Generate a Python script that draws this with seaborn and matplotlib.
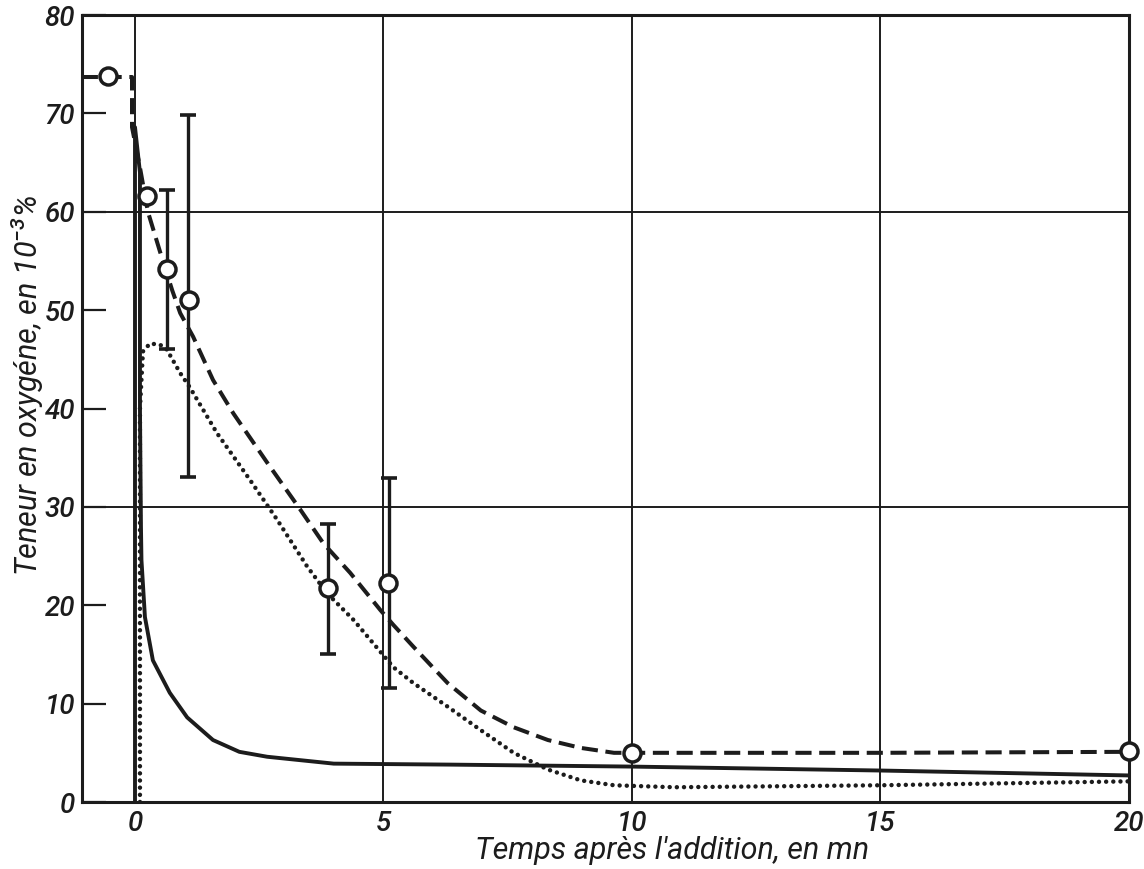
import numpy as np
import pandas as pd
import matplotlib
matplotlib.use("Agg")
import matplotlib.pyplot as plt
import seaborn as sns

# Measured oxygen content (10^-3 %) versus time after the addition (min)
mesure_t = [-0.54, 0.24, 0.64, 1.09, 3.89, 5.10, 10.0, 20.0]
mesure_o = [73.8, 61.6, 54.2, 51.0, 21.8, 22.3, 5.0, 5.2]

# Scatter ranges of the individual determinations
err_t = [0.64, 1.07, 3.89, 5.12]
err_low = [46.0, 33.0, 15.0, 11.6]
err_high = [62.2, 69.8, 28.3, 32.9]

# Mean curve through the measurements (dashed)
moy_t = [-1.07, -0.06, -0.06, 0.10, 0.26, 0.50, 0.75, 0.91, 1.17, 1.57, 1.98,
         2.66, 3.33, 3.79, 4.33, 4.94, 5.20, 5.60, 6.29, 6.96, 7.62, 8.31,
         8.97, 9.64, 10.0, 15.0, 20.0]
moy_o = [73.7, 73.7, 68.6, 64.5, 60.0, 56.0, 52.0, 49.7, 47.3, 42.9, 39.5,
         34.5, 29.7, 26.3, 23.3, 19.5, 18.0, 15.8, 12.1, 9.3, 7.6, 6.3,
         5.5, 5.0, 5.0, 5.0, 5.1]

# Calculated curve, first hypothesis (dotted)
calc1_t = [0.10, 0.10, 0.16, 0.30, 0.50, 0.64, 0.91, 1.11, 1.65, 2.32, 2.86,
           3.47, 3.87, 4.40, 5.20, 5.60, 6.29, 6.96, 7.62, 8.31, 8.97, 9.64,
           10.85, 15.0, 20.0]
calc1_o = [0.0, 40.0, 45.8, 46.6, 46.5, 46.0, 43.6, 42.1, 37.5, 32.7, 28.7,
           23.9, 21.2, 18.5, 13.7, 12.1, 9.7, 7.3, 5.0, 3.3, 2.2, 1.7,
           1.5, 1.7, 2.1]

# Calculated curve, second hypothesis (solid)
calc2_t = [0.0, 0.0, 0.10, 0.10, 0.12, 0.13, 0.20, 0.36, 0.70, 1.05, 1.57,
           2.10, 2.66, 4.00, 6.35, 10.0, 15.0, 20.0]
calc2_o = [0.0, 68.6, 64.0, 40.0, 28.0, 24.6, 18.8, 14.4, 11.1, 8.6, 6.3,
           5.1, 4.6, 3.9, 3.8, 3.6, 3.2, 2.7]

x_ticks = [0, 5, 10, 15, 20]
y_ticks = [0, 10, 20, 30, 40, 50, 60, 70, 80]
x_grid = [0, 5, 10, 15]
y_grid = [30, 60]

sns.set_theme(style="white")
plt.rcParams["font.family"] = ["Roboto", "DejaVu Sans"]
plt.rcParams["font.style"] = "italic"
plt.rcParams["font.weight"] = "medium"
plt.rcParams["mathtext.fontset"] = "custom"
plt.rcParams["mathtext.rm"] = "Roboto:italic:medium"
plt.rcParams["mathtext.it"] = "Roboto:italic:medium"
plt.rcParams["mathtext.default"] = "it"

ink = "#1c1c1c"

fig = plt.figure(figsize=(11.44, 8.69), dpi=100)
ax = fig.add_axes([0.0717, 0.0771, 0.9150, 0.9056])

# grid
for gx in x_grid:
    ax.axvline(gx, color=ink, lw=1.4, zorder=1)
for gy in y_grid:
    ax.axhline(gy, color=ink, lw=1.4, zorder=1)

df_moy = pd.DataFrame({"t": moy_t, "o": moy_o})
df_c1 = pd.DataFrame({"t": calc1_t, "o": calc1_o})
df_c2 = pd.DataFrame({"t": calc2_t, "o": calc2_o})
df_mes = pd.DataFrame({"t": mesure_t, "o": mesure_o})

sns.lineplot(data=df_c2, x="t", y="o", sort=False, estimator=None, ax=ax,
             color=ink, lw=2.8, zorder=3)
sns.lineplot(data=df_c1, x="t", y="o", sort=False, estimator=None, ax=ax,
             color=ink, lw=3.2, zorder=3)
dotted = ax.lines[-1]
dotted.set_linestyle((0, (0.01, 1.6)))
dotted.set_dash_capstyle("round")
sns.lineplot(data=df_moy, x="t", y="o", sort=False, estimator=None, ax=ax,
             color=ink, lw=2.9, zorder=3)
dashed = ax.lines[-1]
dashed.set_linestyle((0, (4.0, 1.9)))

# scatter of the determinations
err_mid = [(lo + hi) / 2 for lo, hi in zip(err_low, err_high)]
err_half = [(hi - lo) / 2 for lo, hi in zip(err_low, err_high)]
ax.errorbar(err_t, err_mid, yerr=err_half, fmt="none", ecolor=ink,
            elinewidth=2.4, capsize=5.5, capthick=2.6, zorder=4)

sns.scatterplot(data=df_mes, x="t", y="o", ax=ax, marker="o", s=150,
                facecolor="white", edgecolor=ink, linewidth=2.5, zorder=6,
                clip_on=False)

ax.set_xlim(-1.066, 20)
ax.set_ylim(0, 80)
ax.set_xticks(x_ticks)
ax.set_yticks(y_ticks)
ax.set_xticklabels([str(v) for v in x_ticks])
ax.set_yticklabels([str(v) for v in y_ticks])
ax.tick_params(axis="y", direction="in", length=17, width=1.6, color=ink,
               labelsize=20, pad=5, labelcolor=ink, left=True)
ax.tick_params(axis="x", direction="in", length=0, labelsize=20, pad=6,
               labelcolor=ink, bottom=True)
for lab in ax.get_xticklabels() + ax.get_yticklabels():
    lab.set_fontstyle("italic")
    lab.set_fontweight("medium")

for sp in ax.spines.values():
    sp.set_color(ink)
    sp.set_linewidth(2.2)
    sp.set_visible(True)

ax.set_xlabel("Temps après l'addition, en mn", fontsize=22, style="italic",
              color=ink, va="center")
ax.xaxis.set_label_coords(0.564, -0.061)
ax.set_ylabel("Teneur en oxygéne, en 10$^{-3}$%", fontsize=22, style="italic",
              color=ink, va="center")
ax.yaxis.set_label_coords(-0.0525, 0.529)

fig.savefig("out.png", dpi=100, facecolor="white")
